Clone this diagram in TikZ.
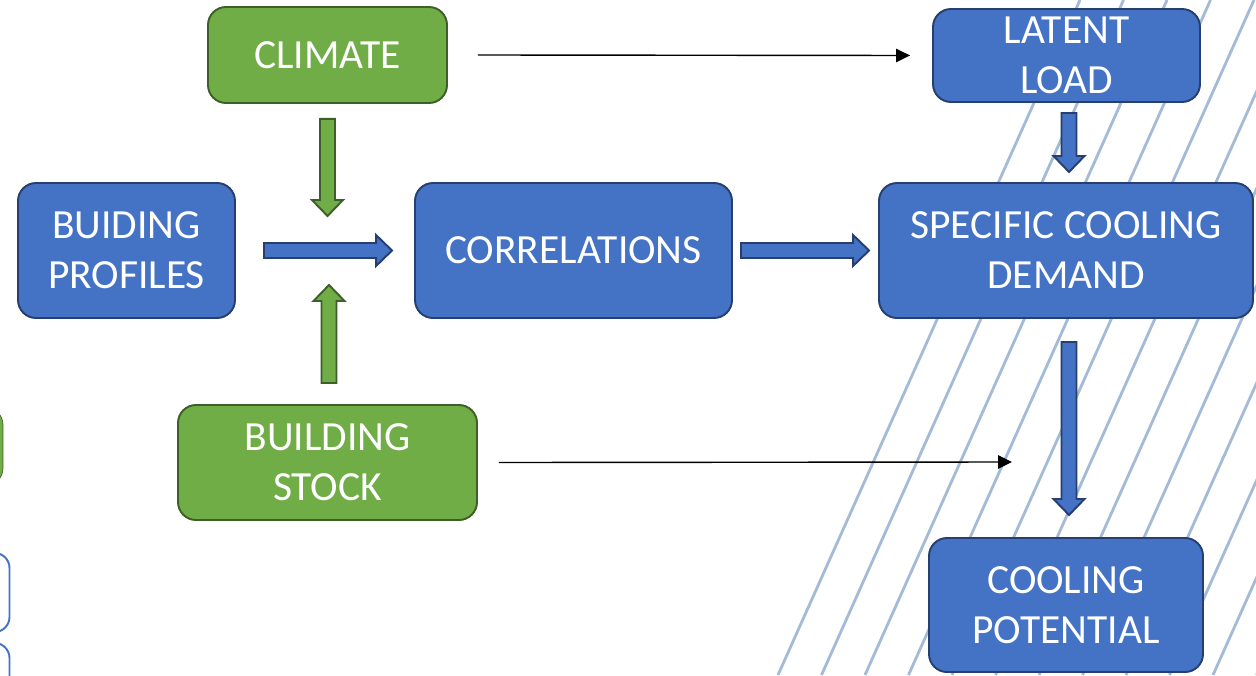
\documentclass[tikz,border=0pt]{standalone}
\usepackage{fontspec}
\setmainfont{Carlito}
\usetikzlibrary{arrows.meta,calc}
\definecolor{boxblue}{HTML}{4472C4}
\definecolor{boxgreen}{HTML}{70AD47}
\definecolor{edgeblue}{HTML}{263F6E}
\definecolor{edgegreen}{HTML}{3D5F2A}
\definecolor{stripeblue}{HTML}{A3BBD6}

\begin{document}
\begin{tikzpicture}
	[every node/.style={rounded corners=0.36cm,line width=1.1pt,inner sep=0pt,align=center,text=white,font=\fontsize{23.6}{28.5}\selectfont},
	 bluebox/.style={draw=edgeblue,fill=boxblue},
	 greenbox/.style={draw=edgegreen,fill=boxgreen},
	 blockarrow/.style={line width=1.1pt,to path={
	 	($(\tikztostart)!0.15cm!90:(\tikztotarget)$)
	 	-- ($(\tikztotarget)!0.32cm!(\tikztostart)!0.15cm!90:(\tikztotarget)$)
	 	-- ($(\tikztotarget)!0.32cm!(\tikztostart)!0.31cm!90:(\tikztotarget)$)
	 	-- (\tikztotarget)
	 	-- ($(\tikztotarget)!0.32cm!(\tikztostart)!0.31cm!-90:(\tikztotarget)$)
	 	-- ($(\tikztotarget)!0.32cm!(\tikztostart)!0.15cm!-90:(\tikztotarget)$)
	 	-- ($(\tikztostart)!0.15cm!-90:(\tikztotarget)$) -- cycle}},
	 pointer/.style={line width=0.8pt,-{Triangle[length=0.28cm,width=0.27cm]}},
	 stripeline/.style={draw=stripeblue,line width=1.6pt}]
	\useasboundingbox (0,0) rectangle (25.12,13.5);
	
	\begin{scope}
		\clip (0,0) rectangle (25.12,13.5);
		\foreach \i in {0,...,11}
		\draw[stripeline] ({15.56+0.87*\i},0) -- ++(6.04,13.5);
	\end{scope}
	
	\draw[greenbox,rounded corners=0.36cm] (-2,5.36) rectangle (0.06,3.78);
	\draw[draw=boxblue,fill=white,line width=1.1pt,rounded corners=0.3cm] (-2,2.44) rectangle (0.19,0.86);
	\draw[draw=boxblue,fill=white,line width=1.1pt,rounded corners=0.3cm] (-2,0.64) rectangle (0.19,-1);
	
	\node[greenbox,minimum width=4.78cm,minimum height=1.92cm] (clim) at (6.55,12.40) {CLIMATE};
	\node[bluebox,minimum width=5.34cm,minimum height=1.86cm] (lat) at (21.33,12.39) {LATENT\\LOAD};
	\node[bluebox,minimum width=4.34cm,minimum height=2.70cm] (prof) at (2.53,8.49) {BUIDING\\PROFILES};
	\node[bluebox,minimum width=6.34cm,minimum height=2.70cm] (corr) at (11.47,8.49) {CORRELATIONS};
	\node[bluebox,minimum width=7.48cm,minimum height=2.70cm] (scd) at (21.32,8.49) {SPECIFIC COOLING\\DEMAND};
	\node[greenbox,minimum width=5.98cm,minimum height=2.30cm] (stock) at (6.55,4.25) {BUILDING\\STOCK};
	\node[bluebox,minimum width=5.48cm,minimum height=2.68cm] (pot) at (21.32,1.40) {COOLING\\POTENTIAL};
	
	\coordinate (climout) at ([yshift=-0.3cm]clim.south);
	\coordinate (climin) at (6.55,9.18);
	\coordinate (stockout) at (6.58,5.84);
	\coordinate (stockin) at (6.58,7.80);
	\coordinate (profout) at ([xshift=0.56cm]prof.east);
	\coordinate (corrin) at ([xshift=-0.44cm]corr.west);
	\coordinate (corrout) at ([xshift=0.16cm]corr.east);
	\coordinate (scdin) at ([xshift=-0.18cm]scd.west);
	\coordinate (latout) at (21.38,11.24);
	\coordinate (latin) at (21.38,10.06);
	\coordinate (scdout) at (21.38,6.66);
	\coordinate (potin) at (21.38,3.20);
	\coordinate (stockend) at (20.24,4.26);
	
	\draw[blockarrow,draw=edgegreen,fill=boxgreen] (climout) to (climin);
	\draw[blockarrow,draw=edgegreen,fill=boxgreen] (stockout) to (stockin);
	\foreach \a/\b in {profout/corrin,corrout/scdin,latout/latin,scdout/potin}
	\draw[blockarrow,draw=edgeblue,fill=boxblue] (\a) to (\b);
	
	\draw[pointer] ([xshift=0.6cm]clim.east) -- ([xshift=-0.44cm]lat.west);
	\draw[pointer] ([xshift=0.42cm]stock.east) -- (stockend);
\end{tikzpicture}
\end{document}
